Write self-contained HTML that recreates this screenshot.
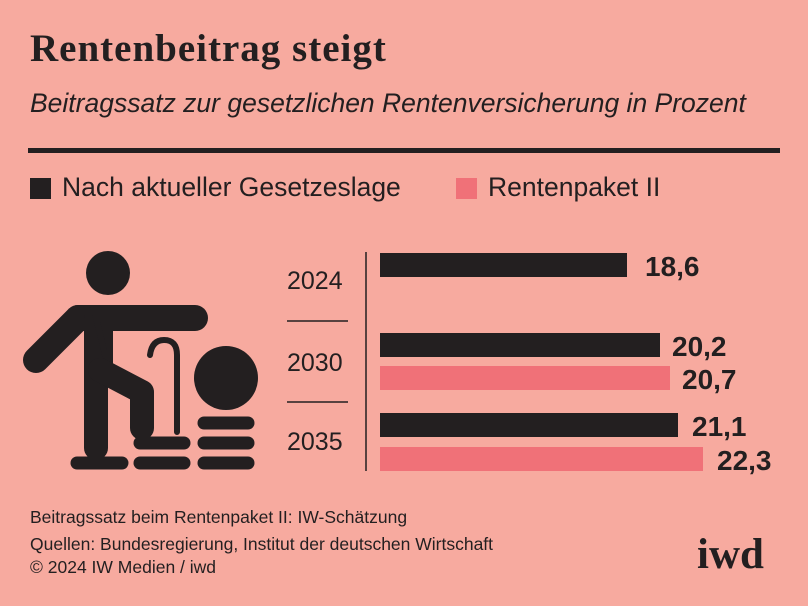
<!DOCTYPE html><html><head><style>
body{margin:0;width:808px;height:606px;background:#f7aa9f;font-family:"Liberation Sans",sans-serif;color:#231f20;position:relative;overflow:hidden}
div{position:absolute;white-space:nowrap}
</style></head><body>
<div style="left:30px;top:26px;font-family:'Liberation Serif',serif;font-weight:bold;font-size:39px;letter-spacing:1px">Rentenbeitrag steigt</div>
<div style="left:30px;top:88px;font-size:26.5px;font-style:italic">Beitragssatz zur gesetzlichen Rentenversicherung in Prozent</div>
<div style="left:28px;top:148px;width:752px;height:5px;background:#231f20"></div>
<div style="left:30px;top:178px;width:21px;height:21px;background:#231f20"></div>
<div style="left:62px;top:172px;font-size:26.5px">Nach aktueller Gesetzeslage</div>
<div style="left:456px;top:178px;width:21px;height:21px;background:#f07178"></div>
<div style="left:488px;top:172px;font-size:26.5px">Rentenpaket II</div>
<svg style="position:absolute;left:0;top:0" width="808" height="606">
<g fill="#231f20" stroke="#231f20" stroke-linecap="round">
<circle cx="108" cy="273" r="22" stroke="none"/>
<line x1="78" y1="318" x2="195" y2="318" stroke-width="26"/>
<line x1="78" y1="318" x2="36" y2="360" stroke-width="26"/>
<line x1="96" y1="318" x2="96" y2="448" stroke-width="24"/>
<path d="M96 318 L110 318 L110 375 Z" stroke-width="6"/>
<polyline points="100,370 142,392 142,428" fill="none" stroke-width="24" stroke-linejoin="round"/>
<path d="M150 355 Q152 340 164 340 Q177 340 177 355 L177 432" fill="none" stroke-width="6"/>
<circle cx="226" cy="378" r="32" stroke="none"/>
<g stroke-width="13">
<line x1="77" y1="463" x2="122" y2="463"/>
<line x1="140" y1="463" x2="184" y2="463"/>
<line x1="140" y1="443" x2="184" y2="443"/>
<line x1="204" y1="463" x2="248" y2="463"/>
<line x1="204" y1="443" x2="248" y2="443"/>
<line x1="204" y1="423" x2="248" y2="423"/>
</g>
</g>
<g fill="#231f20" font-family="Liberation Sans" font-size="25">
<text x="287" y="289">2024</text><text x="287" y="371">2030</text><text x="287" y="450">2035</text>
</g>
<line x1="287" y1="321" x2="348" y2="321" stroke="#231f20" stroke-width="1.5"/>
<line x1="287" y1="402" x2="348" y2="402" stroke="#231f20" stroke-width="1.5"/>
<line x1="366" y1="252" x2="366" y2="471" stroke="#231f20" stroke-width="1.5"/>
<rect x="380" y="253" width="247" height="24" fill="#231f20"/>
<rect x="380" y="333" width="280" height="24" fill="#231f20"/>
<rect x="380" y="366" width="290" height="24" fill="#f07178"/>
<rect x="380" y="413" width="298" height="24" fill="#231f20"/>
<rect x="380" y="447" width="323" height="24" fill="#f07178"/>
<g fill="#231f20" font-family="Liberation Sans" font-weight="bold" font-size="28">
<text x="645" y="276">18,6</text><text x="672" y="356">20,2</text><text x="682" y="389">20,7</text>
<text x="692" y="436">21,1</text><text x="717" y="470">22,3</text>
</g>
</svg>
<div style="left:30px;top:507px;font-size:17.5px">Beitragssatz beim Rentenpaket II: IW-Schätzung</div>
<div style="left:30px;top:534px;font-size:17.5px">Quellen: Bundesregierung, Institut der deutschen Wirtschaft</div>
<div style="left:30px;top:557px;font-size:17.5px">© 2024 IW Medien / iwd</div>
<div style="left:697px;top:530px;font-family:'Liberation Serif',serif;font-weight:bold;font-size:43px">iwd</div>
</body></html>
